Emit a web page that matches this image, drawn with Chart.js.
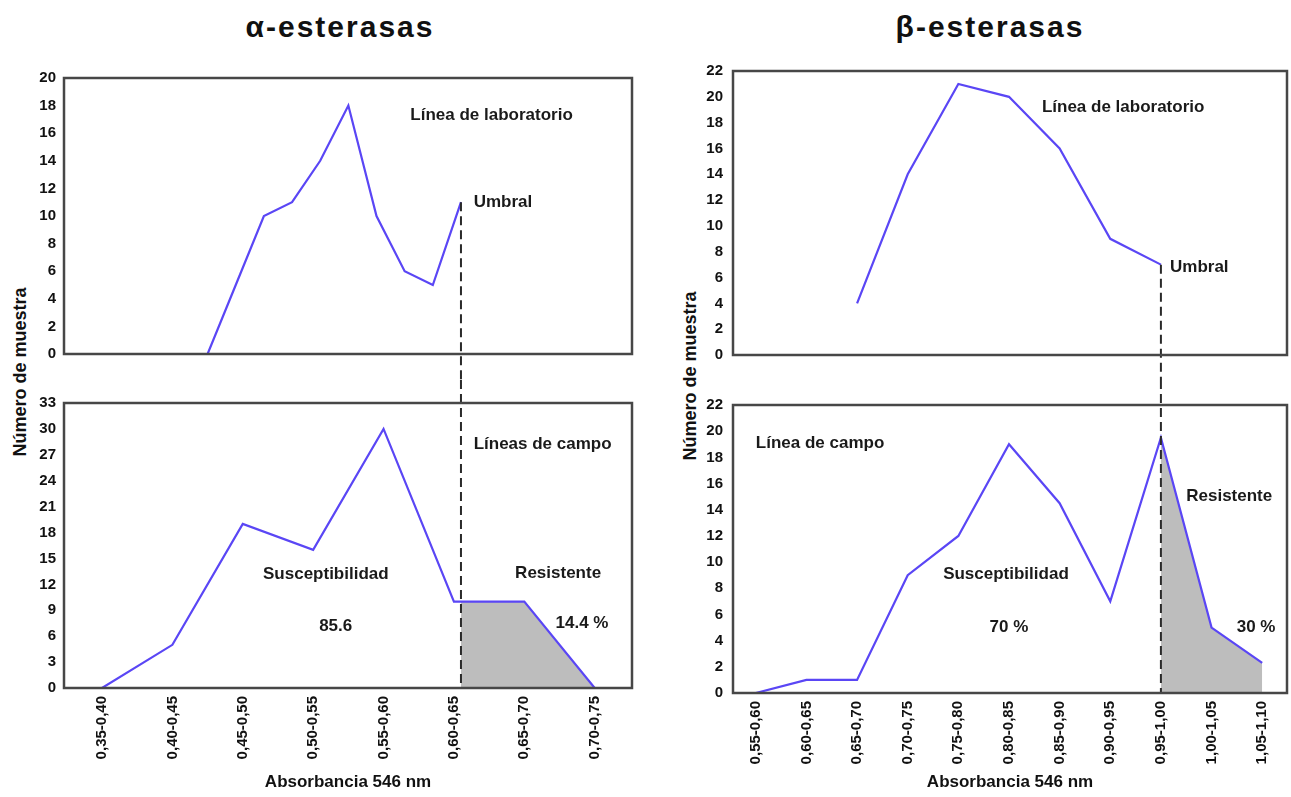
<!DOCTYPE html>
<html lang="es">
<head>
<meta charset="utf-8">
<title>Esterasas - absorbancia 546 nm</title>
<script src="https://cdn.jsdelivr.net/npm/chart.js"></script>
<style>
  body { margin: 0; background: #fff; width: 1291px; height: 797px; position: relative; overflow: hidden;
         font-family: "Liberation Sans", Arial, sans-serif; color: #111; }
  canvas { position: absolute; }
  .titulo { position: absolute; top: 10px; font-size: 30px; font-weight: bold; letter-spacing: 2px;
            transform: translateX(-50%); white-space: nowrap; }
  .ytit { position: absolute; font-size: 18px; font-weight: bold; white-space: nowrap;
          transform: translate(-50%, -50%) rotate(-90deg); }
</style>
</head>
<body>
<div class="titulo" style="left:340px">α-esterasas</div>
<div class="titulo" style="left:990px">β-esterasas</div>
<div class="ytit" style="left:20px; top:372px">Número de muestra</div>
<div class="ytit" style="left:690px; top:376px">Número de muestra</div>

<canvas id="alfaLab" width="650" height="330" style="left:0; top:50px"></canvas>
<canvas id="alfaCampo" width="650" height="417" style="left:0; top:380px"></canvas>
<canvas id="betaLab" width="631" height="330" style="left:660px; top:50px"></canvas>
<canvas id="betaCampo" width="631" height="417" style="left:660px; top:380px"></canvas>

<script>
/* ---------- datos ---------- */
const alphaBins = ['0,35-0,40', '0,40-0,45', '0,45-0,50', '0,50-0,55', '0,55-0,60', '0,60-0,65', '0,65-0,70', '0,70-0,75'];
const alphaCampo = [0, 5, 19, 16, 30, 10, 10, 0];
const alphaLabAbs = [0.45, 0.47, 0.49, 0.51, 0.53, 0.55, 0.57, 0.59, 0.61, 0.63];
const alphaLab = [0, 5, 10, 11, 14, 18, 10, 6, 5, 11];
const alphaUmbral = 0.63;
const alphaLabTicks = [0, 2, 4, 6, 8, 10, 12, 14, 16, 18, 20];
const alphaCampoTicks = [0, 3, 6, 9, 12, 15, 18, 21, 24, 27, 30, 33];

const betaBins = ['0,55-0,60', '0,60-0,65', '0,65-0,70', '0,70-0,75', '0,75-0,80', '0,80-0,85',
                  '0,85-0,90', '0,90-0,95', '0,95-1,00', '1,00-1,05', '1,05-1,10'];
const betaCampo = [0, 1, 1, 9, 12, 19, 14.5, 7, 19.5, 5, 2.3];
const betaLab = [null, null, 4, 14, 21, 20, 16, 9, 7, null, null];
const betaUmbral = 0.975;
const betaTicks = [0, 2, 4, 6, 8, 10, 12, 14, 16, 18, 20, 22];

const FONT = '"Liberation Sans", Arial, sans-serif';
const AZUL = '#5a46f5';
Chart.defaults.font.family = FONT;
Chart.defaults.color = '#111';

// centro del intervalo '0,35-0,40' -> 0.375
function centro(bin) {
    const [a, b] = bin.split('-').map(v => parseFloat(v.replace(',', '.')));
    return (a + b) / 2;
}

function puntos(xs, ys) {
    return xs.map((x, i) => ({ x, y: ys[i] })).filter(p => p.y !== null);
}

// area gris a la derecha del umbral
function zonaResistente(pts, umbral) {
    const out = [];
    for (let i = 0; i < pts.length; i++) {
        const p = pts[i];
        if (p.x < umbral - 1e-9) {
            const q = pts[i + 1];
            if (q && q.x > umbral + 1e-9) {
                const t = (umbral - p.x) / (q.x - p.x);
                out.push({ x: umbral, y: p.y + t * (q.y - p.y) });
            }
            continue;
        }
        out.push(p);
    }
    return out;
}

/* ---------- plugins ---------- */
const marco = {
    id: 'marco',
    afterDraw(chart) {
        const { ctx, chartArea: a } = chart;
        ctx.save();
        ctx.strokeStyle = '#474747';
        ctx.lineWidth = 2.5;
        ctx.strokeRect(a.left, a.top, a.right - a.left, a.bottom - a.top);
        ctx.restore();
    }
};

function umbralPlugin(u) {
    return {
        id: 'umbral',
        afterDatasetsDraw(chart) {
            const { ctx, chartArea: a, scales } = chart;
            const x = scales.x.getPixelForValue(u.x);
            const y0 = u.desde != null ? scales.y.getPixelForValue(u.desde) : 0;
            const y1 = u.desde != null ? chart.height : a.bottom;
            ctx.save();
            ctx.setLineDash([9, 5]);
            ctx.strokeStyle = '#2a2a2a';
            ctx.lineWidth = 2;
            ctx.beginPath();
            ctx.moveTo(x, y0);
            ctx.lineTo(x, y1);
            ctx.stroke();
            ctx.restore();
        }
    };
}

function notasPlugin(items) {
    return {
        id: 'notas',
        afterDraw(chart) {
            const { ctx, scales } = chart;
            ctx.save();
            ctx.font = 'bold 17px ' + FONT;
            ctx.fillStyle = '#1a1a1a';
            ctx.textBaseline = 'middle';
            items.forEach(n => {
                ctx.textAlign = n.align || 'left';
                ctx.fillText(n.text, scales.x.getPixelForValue(n.x), scales.y.getPixelForValue(n.y));
            });
            ctx.restore();
        }
    };
}

/* ---------- panel ---------- */
function panel(id, o) {
    return new Chart(document.getElementById(id), {
        type: 'line',
        data: { datasets: o.datasets },
        options: {
            responsive: false,
            animation: false,
            layout: { padding: o.padding },
            plugins: { legend: { display: false }, tooltip: { enabled: false } },
            scales: {
                x: {
                    type: 'linear',
                    min: o.xMin,
                    max: o.xMax,
                    display: o.showX,
                    grid: { display: false, drawTicks: false },
                    border: { display: false },
                    afterBuildTicks: s => { s.ticks = o.bins.map(b => ({ value: centro(b) })); },
                    afterFit: s => { if (o.xHeight) s.height = o.xHeight; },
                    ticks: {
                        autoSkip: false, minRotation: 90, maxRotation: 90, padding: 8,
                        color: '#111', font: { size: 15, weight: 'bold' },
                        callback: (v, i) => o.bins[i]
                    },
                    title: {
                        display: true, text: 'Absorbancia 546 nm', color: '#111',
                        font: { size: 17, weight: 'bold' }, padding: { top: 0, bottom: 2 }
                    }
                },
                y: {
                    type: 'linear',
                    min: 0,
                    max: o.yTicks[o.yTicks.length - 1],
                    afterBuildTicks: s => { s.ticks = o.yTicks.map(v => ({ value: v })); },
                    afterFit: s => { s.width = o.yWidth; },
                    grid: { display: false, drawTicks: false },
                    border: { display: false },
                    ticks: { padding: o.yPad, color: '#111', font: { size: 15, weight: 'bold' } }
                }
            }
        },
        plugins: [marco, umbralPlugin(o.umbral), notasPlugin(o.notas)]
    });
}

const linea = pts => ({ data: pts, borderColor: AZUL, borderWidth: 2.2, pointRadius: 0, tension: 0, fill: false });
const gris = pts => ({ data: pts, borderWidth: 0, pointRadius: 0, tension: 0, fill: 'origin', backgroundColor: '#bdbdbd' });

/* ---------- α-esterasas ---------- */
const alphaX = alphaBins.map(centro);
const alphaCampoPts = puntos(alphaX, alphaCampo);

panel('alfaLab', {
    datasets: [linea(puntos(alphaLabAbs, alphaLab))],
    bins: alphaBins, xMin: 0.348, xMax: 0.7515, showX: false,
    yTicks: alphaLabTicks, yWidth: 64, yPad: 8,
    padding: { top: 28, bottom: 26, left: 0, right: 18 },
    umbral: { x: alphaUmbral, desde: alphaLab[alphaLab.length - 1] },
    notas: [
        { text: 'Línea de laboratorio', x: 0.594, y: 17.3 },
        { text: 'Umbral', x: 0.639, y: 11 }
    ]
});

panel('alfaCampo', {
    datasets: [linea(alphaCampoPts), gris(zonaResistente(alphaCampoPts, alphaUmbral))],
    bins: alphaBins, xMin: 0.348, xMax: 0.7515, showX: true, xHeight: 107,
    yTicks: alphaCampoTicks, yWidth: 64, yPad: 8,
    padding: { top: 23, bottom: 2, left: 0, right: 18 },
    umbral: { x: alphaUmbral },
    notas: [
        { text: 'Líneas de campo', x: 0.639, y: 28.2 },
        { text: 'Susceptibilidad', x: 0.534, y: 13.2, align: 'center' },
        { text: '85.6', x: 0.541, y: 7.2, align: 'center' },
        { text: 'Resistente', x: 0.699, y: 13.3, align: 'center' },
        { text: '14.4 %', x: 0.716, y: 7.5, align: 'center' }
    ]
});

/* ---------- β-esterasas ---------- */
const betaX = betaBins.map(centro);
const betaCampoPts = puntos(betaX, betaCampo);

panel('betaLab', {
    datasets: [linea(puntos(betaX, betaLab))],
    bins: betaBins, xMin: 0.5525, xMax: 1.0995, showX: false,
    yTicks: betaTicks, yWidth: 73, yPad: 10,
    padding: { top: 21, bottom: 25, left: 0, right: 4 },
    umbral: { x: betaUmbral, desde: 7 },
    notas: [
        { text: 'Línea de laboratorio', x: 0.8575, y: 19.15 },
        { text: 'Umbral', x: 0.984, y: 6.8 }
    ]
});

panel('betaCampo', {
    datasets: [linea(betaCampoPts), gris(zonaResistente(betaCampoPts, betaUmbral))],
    bins: betaBins, xMin: 0.5525, xMax: 1.0995, showX: true, xHeight: 102,
    yTicks: betaTicks, yWidth: 73, yPad: 10,
    padding: { top: 25, bottom: 2, left: 0, right: 4 },
    umbral: { x: betaUmbral },
    notas: [
        { text: 'Línea de campo', x: 0.575, y: 19.1 },
        { text: 'Susceptibilidad', x: 0.822, y: 9.1, align: 'center' },
        { text: '70 %', x: 0.825, y: 5, align: 'center' },
        { text: 'Resistente', x: 1.0, y: 15 },
        { text: '30 %', x: 1.069, y: 5, align: 'center' }
    ]
});
</script>
</body>
</html>
